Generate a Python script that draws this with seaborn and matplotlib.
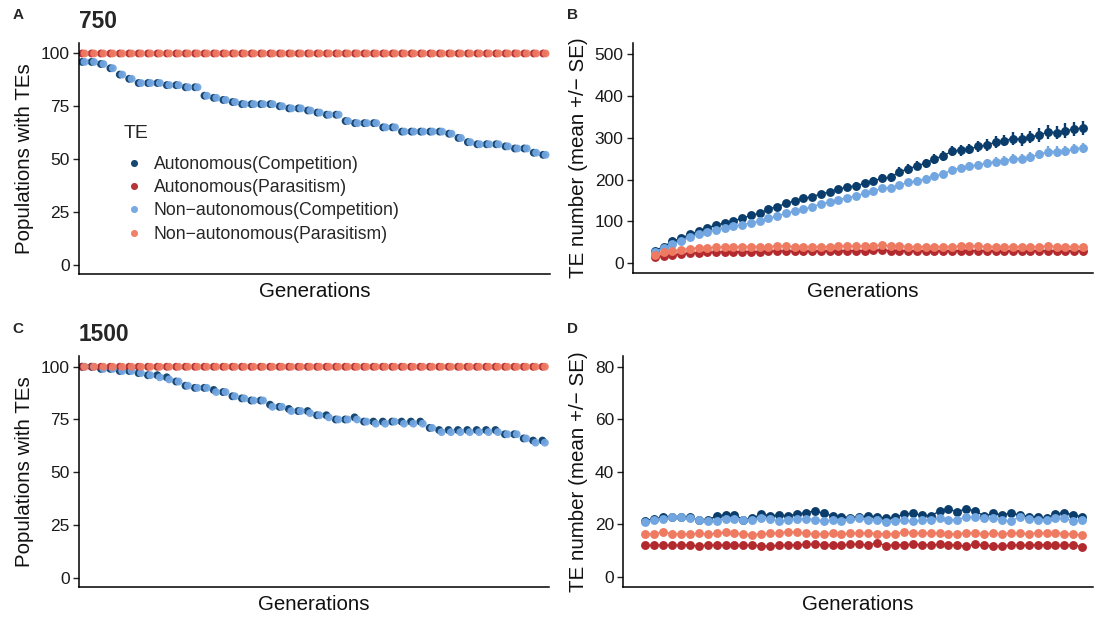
import matplotlib
matplotlib.use("Agg")
import matplotlib.pyplot as plt
import pandas as pd
import seaborn as sns

sns.set_theme(style="ticks")
plt.rcParams['font.family'] = ['Liberation Sans', 'DejaVu Sans']

# ---------------- data ----------------
te_types = ["Autonomous(Competition)", "Autonomous(Parasitism)",
            "Non\u2212autonomous(Competition)", "Non\u2212autonomous(Parasitism)"]
colors = ["#0A3D6B", "#B22A2E", "#72A6E0", "#EF7A62"]

generations = list(range(1, 51))

# Panel A (750): populations with TEs
pop750_auto_comp = [96, 96, 95, 93, 90, 88, 86, 86, 86, 85, 85, 84, 84, 80, 79, 78, 77, 76, 76, 76,
                    76, 75, 74, 74, 73, 72, 71, 71, 68, 67, 67, 67, 65, 65, 63, 63, 63, 63, 63, 62,
                    60, 58, 57, 57, 57, 56, 55, 55, 53, 52]
pop750_non_comp = [96, 96, 95, 93, 90, 88, 86, 86, 86, 85, 85, 84, 84, 80, 79, 78, 77, 76, 76, 76,
                   76, 75, 74, 74, 73, 72, 71, 71, 68, 67, 67, 67, 65, 65, 63, 63, 63, 63, 63, 62,
                   60, 58, 57, 57, 57, 56, 55, 55, 53, 52]
pop750_auto_para = [100, 100, 100, 100, 100, 100, 100, 100, 100, 100, 100, 100, 100, 100, 100, 100, 100,
                    100, 100, 100, 100, 100, 100, 100, 100, 100, 100, 100, 100, 100, 100, 100, 100, 100,
                    100, 100, 100, 100, 100, 100, 100, 100, 100, 100, 100, 100, 100, 100, 100, 100]
pop750_non_para = [100, 100, 100, 100, 100, 100, 100, 100, 100, 100, 100, 100, 100, 100, 100, 100, 100,
                   100, 100, 100, 100, 100, 100, 100, 100, 100, 100, 100, 100, 100, 100, 100, 100, 100,
                   100, 100, 100, 100, 100, 100, 100, 100, 100, 100, 100, 100, 100, 100, 100, 100]

# Panel C (1500): populations with TEs
pop1500_auto_comp = [100, 100, 99, 99, 98, 98, 97, 96, 96, 95, 93, 91, 90, 90, 89, 88, 86, 85, 84, 84,
                     82, 81, 80, 79, 79, 77, 77, 75, 75, 76, 74, 74, 74, 74, 74, 74, 74, 71, 70, 70,
                     70, 70, 70, 70, 70, 68, 68, 66, 65, 65]
pop1500_non_comp = [100, 100, 99, 99, 98, 98, 97, 96, 95, 94, 93, 91, 90, 90, 88, 88, 86, 85, 84, 84,
                    81, 81, 79, 79, 78, 77, 76, 75, 75, 75, 74, 73, 73, 74, 73, 73, 73, 71, 69, 69,
                    69, 69, 69, 69, 69, 68, 68, 66, 64, 64]
pop1500_auto_para = pop750_auto_para
pop1500_non_para = pop750_non_para

# Panel B (750): TE number mean and SE
te750_auto_comp = [30, 40, 52, 60, 69, 77, 84, 92, 96, 102, 107, 115, 119, 130, 135, 143, 149, 155, 159, 166,
                   170, 177, 182, 185, 191, 197, 203, 205, 219, 225, 233, 239, 250, 256, 268, 270, 273, 279, 282, 290,
                   293, 298, 296, 302, 306, 314, 312, 317, 320, 324]
se750_auto_comp = [2, 2, 3, 3, 3, 4, 4, 4, 5, 5, 5, 5, 6, 6, 6, 6, 7, 7, 7, 7,
                   8, 8, 8, 9, 9, 9, 10, 10, 10, 11, 11, 11, 12, 12, 12, 13, 13, 13, 14, 14,
                   14, 15, 15, 15, 16, 16, 16, 17, 17, 17]
te750_non_comp = [28, 36, 45, 54, 62, 69, 74, 80, 84, 89, 92, 97, 100, 107, 113, 119, 125, 129, 135, 142,
                  146, 151, 157, 161, 167, 173, 179, 181, 187, 193, 197, 201, 209, 213, 223, 228, 232, 235, 239, 243,
                  245, 250, 250, 254, 260, 267, 267, 268, 273, 276]
se750_non_comp = [1, 2, 2, 2, 3, 3, 3, 3, 3, 4, 4, 4, 4, 5, 5, 5, 5, 5, 6, 6,
                  6, 6, 7, 7, 7, 7, 8, 8, 8, 8, 8, 9, 9, 9, 9, 10, 10, 10, 10, 10,
                  11, 11, 11, 11, 11, 12, 12, 12, 12, 12]
te750_auto_para = [14, 18, 20, 22, 24, 25, 26, 26, 27, 27, 28, 28, 28, 29, 29, 29, 29, 29, 29, 29,
                   30, 30, 30, 30, 30, 31, 31, 30, 30, 30, 30, 30, 30, 30, 30, 30, 30, 30, 30, 30,
                   30, 30, 30, 30, 30, 30, 30, 30, 30, 30]
se750_auto_para = [1, 1, 1, 1, 1, 1, 1, 1, 1, 1, 1, 1, 1, 1, 1, 1, 1, 1, 1, 1,
                   1, 1, 1, 1, 1, 1, 1, 1, 1, 1, 1, 1, 1, 1, 1, 1, 1, 1, 1, 1,
                   1, 1, 1, 1, 1, 1, 1, 1, 1, 1]
te750_non_para = [20, 26, 30, 32, 35, 37, 37, 38, 39, 40, 40, 40, 40, 40, 41, 41, 40, 40, 40, 40,
                  40, 41, 41, 41, 42, 42, 43, 42, 41, 40, 40, 40, 40, 40, 40, 41, 41, 41, 40, 40,
                  40, 40, 40, 40, 40, 41, 40, 40, 40, 40]
se750_non_para = [1.5, 1.5, 1.5, 1.5, 1.5, 1.5, 1.5, 1.5, 1.5, 1.5, 1.5, 1.5, 1.5, 1.5, 1.5, 1.5, 1.5,
                  1.5, 1.5, 1.5, 1.5, 1.5, 1.5, 1.5, 1.5, 1.5, 1.5, 1.5, 1.5, 1.5, 1.5, 1.5, 1.5, 1.5,
                  1.5, 1.5, 1.5, 1.5, 1.5, 1.5, 1.5, 1.5, 1.5, 1.5, 1.5, 1.5, 1.5, 1.5, 1.5, 1.5]

# Panel D (1500): TE number mean and SE
te1500_auto_comp = [21.3, 22.1, 22.6, 22.6, 22.6, 22.9, 21.6, 21.6, 23.2, 23.5, 23.5, 21.8, 22.2, 23.9, 23.2,
                    23.5, 23.2, 23.9, 24.4, 25.1, 24.1, 23.2, 22.9, 22.5, 22.9, 23.1, 22.9, 22.2, 22.6, 23.9,
                    24.1, 23.5, 23.2, 25.0, 25.7, 24.8, 25.9, 25.0, 23.2, 24.1, 23.7, 24.1, 23.6, 22.9, 22.9,
                    22.2, 23.9, 24.4, 23.6, 22.8]
se1500_auto_comp = [0.8, 0.8, 0.8, 0.8, 0.8, 0.8, 0.8, 0.8, 0.8, 0.8, 0.8, 0.8, 0.8, 0.8, 0.8, 0.8, 0.8,
                    0.8, 0.8, 0.9, 0.8, 0.8, 0.8, 0.8, 0.8, 0.8, 0.8, 0.8, 0.8, 0.8, 0.8, 0.8, 0.8, 0.9,
                    0.9, 0.9, 0.9, 0.9, 0.8, 0.8, 0.8, 0.8, 0.8, 0.8, 0.8, 0.8, 0.8, 0.8, 0.8, 0.8]
te1500_non_comp = [20.8, 21.8, 22.1, 22.6, 22.6, 22.3, 21.8, 21.3, 21.3, 22.1, 22.1, 21.6, 21.6, 22.3, 22.1,
                   21.3, 21.6, 22.0, 22.1, 21.8, 21.3, 21.6, 21.1, 22.0, 22.2, 21.6, 21.6, 20.8, 21.1, 21.6,
                   21.1, 21.6, 21.6, 22.3, 21.8, 21.6, 22.9, 22.6, 22.2, 22.3, 21.6, 21.1, 22.9, 22.1, 21.8,
                   21.8, 22.3, 22.3, 21.3, 21.8]
se1500_non_comp = [0.5, 0.5, 0.5, 0.5, 0.5, 0.5, 0.5, 0.5, 0.5, 0.5, 0.5, 0.5, 0.5, 0.5, 0.5, 0.5, 0.5,
                   0.5, 0.5, 0.5, 0.5, 0.5, 0.5, 0.5, 0.5, 0.5, 0.5, 0.5, 0.5, 0.5, 0.5, 0.5, 0.5, 0.5,
                   0.5, 0.5, 0.5, 0.5, 0.5, 0.5, 0.5, 0.5, 0.5, 0.5, 0.5, 0.5, 0.5, 0.5, 0.5, 0.5]
te1500_auto_para = [11.9, 11.9, 12.1, 11.9, 12.0, 12.2, 11.6, 12.2, 11.9, 12.1, 12.0, 11.9, 12.1, 11.7, 11.7,
                    12.0, 12.1, 12.1, 12.3, 12.4, 12.2, 12.0, 12.0, 12.3, 12.4, 12.0, 13.0, 11.8, 12.2, 12.1,
                    12.5, 12.2, 12.1, 12.3, 12.2, 12.0, 11.7, 12.3, 11.9, 11.8, 11.6, 12.1, 12.0, 11.9, 12.2,
                    12.2, 11.9, 11.9, 12.2, 11.4]
se1500_auto_para = [0.4, 0.4, 0.4, 0.4, 0.4, 0.4, 0.4, 0.4, 0.4, 0.4, 0.4, 0.4, 0.4, 0.4, 0.4, 0.4, 0.4,
                    0.4, 0.4, 0.4, 0.4, 0.4, 0.4, 0.4, 0.4, 0.4, 0.4, 0.4, 0.4, 0.4, 0.4, 0.4, 0.4, 0.4,
                    0.4, 0.4, 0.4, 0.4, 0.4, 0.4, 0.4, 0.4, 0.4, 0.4, 0.4, 0.4, 0.4, 0.4, 0.4, 0.4]
te1500_non_para = [16.2, 16.3, 17.1, 16.4, 16.2, 16.2, 16.5, 16.1, 16.6, 16.9, 16.5, 16.3, 16.0, 16.3, 16.5,
                   16.7, 17.1, 16.9, 16.7, 16.1, 16.4, 16.5, 16.3, 16.5, 16.6, 16.8, 16.3, 16.4, 16.2, 17.2,
                   16.7, 16.6, 16.7, 16.5, 16.2, 16.4, 16.5, 16.8, 16.3, 16.5, 16.4, 16.6, 16.5, 16.4, 16.6,
                   16.5, 16.8, 16.4, 16.2, 15.9]
se1500_non_para = [0.5, 0.5, 0.5, 0.5, 0.5, 0.5, 0.5, 0.5, 0.5, 0.5, 0.5, 0.5, 0.5, 0.5, 0.5, 0.5, 0.5,
                   0.5, 0.5, 0.5, 0.5, 0.5, 0.5, 0.5, 0.5, 0.5, 0.5, 0.5, 0.5, 0.5, 0.5, 0.5, 0.5, 0.5,
                   0.5, 0.5, 0.5, 0.5, 0.5, 0.5, 0.5, 0.5, 0.5, 0.5, 0.5, 0.5, 0.5, 0.5, 0.5, 0.5]

panel_titles = ["750", "1500"]
ylab_pop = "Populations with TEs"
ylab_num = "TE number (mean +/\u2212 SE)"
xlab = "Generations"

# ---------------- helpers ----------------
W, H = 1095, 618
palette = dict(zip(te_types, colors))
dodge = {te_types[0]: -0.13, te_types[1]: -0.13, te_types[2]: 0.13, te_types[3]: 0.13}


def px_axes(fig, left, top, right, bottom):
    return fig.add_axes([left / W, 1 - bottom / H, (right - left) / W, (bottom - top) / H])


def style_axes(ax, yticks, ylim, xlim, ylabel):
    ax.set_xlim(*xlim)
    ax.set_ylim(*ylim)
    ax.set_yticks(yticks)
    ax.set_xticks([])
    for s in ["top", "right"]:
        ax.spines[s].set_visible(False)
    for s in ["left", "bottom"]:
        ax.spines[s].set_linewidth(1.1)
        ax.spines[s].set_color("black")
    ax.tick_params(axis="y", length=4, width=1.0, color="#222222", labelsize=12.5,
                   labelcolor="#1a1a1a", pad=2.5)
    ax.set_ylabel(ylabel, fontsize=14.8, color="#111111", labelpad=5)
    ax.set_xlabel(xlab, fontsize=14.8, color="#111111", labelpad=6)
    ax.set_facecolor("white")


def pop_frame(series):
    rows = []
    for te, vals in zip(te_types, series):
        for g, v in zip(generations, vals):
            rows.append({"gen": g + dodge[te], "value": v, "TE": te})
    return pd.DataFrame(rows)


def num_frame(series, ses):
    rows = []
    for te, vals, se in zip(te_types, series, ses):
        for g, v, e in zip(generations, vals, se):
            rows.append({"gen": g, "mean": v, "se": e, "TE": te})
    return pd.DataFrame(rows)


fig = plt.figure(figsize=(W / 100, H / 100), dpi=100)
fig.patch.set_facecolor("white")

axA = px_axes(fig, 78.7, 42.7, 550, 273.7)
axB = px_axes(fig, 632.7, 42.7, 1093, 273.3)
axC = px_axes(fig, 78.7, 356, 549.3, 586.7)
axD = px_axes(fig, 623.3, 356, 1093, 586.7)

# ---- scatter panels ----
dfA = pop_frame([pop750_auto_comp, pop750_auto_para, pop750_non_comp, pop750_non_para])
dfC = pop_frame([pop1500_auto_comp, pop1500_auto_para, pop1500_non_comp, pop1500_non_para])

sns.scatterplot(data=dfA, x="gen", y="value", hue="TE", hue_order=te_types, palette=palette,
                s=32, edgecolor="none", linewidth=0, alpha=0.95, ax=axA, legend=True)
sns.scatterplot(data=dfC, x="gen", y="value", hue="TE", hue_order=te_types, palette=palette,
                s=32, edgecolor="none", linewidth=0, alpha=0.95, ax=axC, legend=False)

for ax in (axA, axC):
    style_axes(ax, [0, 25, 50, 75, 100], (-4.3, 105.1), (0.5, 50.6), ylab_pop)

sns.move_legend(axA, loc="upper left", bbox_to_anchor=(115 / W, 1 - 116 / H),
                bbox_transform=fig.transFigure, title="TE", frameon=False,
                fontsize=12.7, title_fontsize=14, alignment="left", borderpad=0,
                labelspacing=0.36, handletextpad=0.5, handlelength=1.2, markerscale=0.9)
legA = axA.get_legend()
legA._legend_box.sep = 10

# ---- mean +/- SE panels ----
dfB = num_frame([te750_auto_comp, te750_auto_para, te750_non_comp, te750_non_para],
                [se750_auto_comp, se750_auto_para, se750_non_comp, se750_non_para])
dfD = num_frame([te1500_auto_comp, te1500_auto_para, te1500_non_comp, te1500_non_para],
                [se1500_auto_comp, se1500_auto_para, se1500_non_comp, se1500_non_para])

for ax, df in ((axB, dfB), (axD, dfD)):
    for te in te_types:
        sub = df[df["TE"] == te]
        ax.errorbar(sub["gen"], sub["mean"], yerr=sub["se"], fmt="none",
                    ecolor=palette[te], elinewidth=1.7, capsize=0, zorder=2)
        sns.lineplot(data=sub, x="gen", y="mean", color=palette[te], marker="o",
                     markersize=6.4, markeredgewidth=0, linewidth=1.0, errorbar=None,
                     ax=ax, legend=False, zorder=3)

style_axes(axB, [0, 100, 200, 300, 400, 500], (-24, 527), (-1.54, 51.16), ylab_num)
style_axes(axD, [0, 20, 40, 60, 80], (-3.8, 84.1), (-1.47, 51.21), ylab_num)

# ---- titles and panel letters ----
axA.set_title(panel_titles[0], loc="left", fontsize=16.4, fontweight="bold", pad=10.5)
axC.set_title(panel_titles[1], loc="left", fontsize=16.4, fontweight="bold", pad=10.5)
for letter, x, y in (("A", 12.3, 19.3), ("B", 567.5, 19.3), ("C", 12.3, 332.7), ("D", 567.5, 332.7)):
    fig.text(x / W, 1 - y / H, letter, fontsize=11, fontweight="bold", va="baseline", ha="left")

fig.savefig("out.png", dpi=100, facecolor="white")
